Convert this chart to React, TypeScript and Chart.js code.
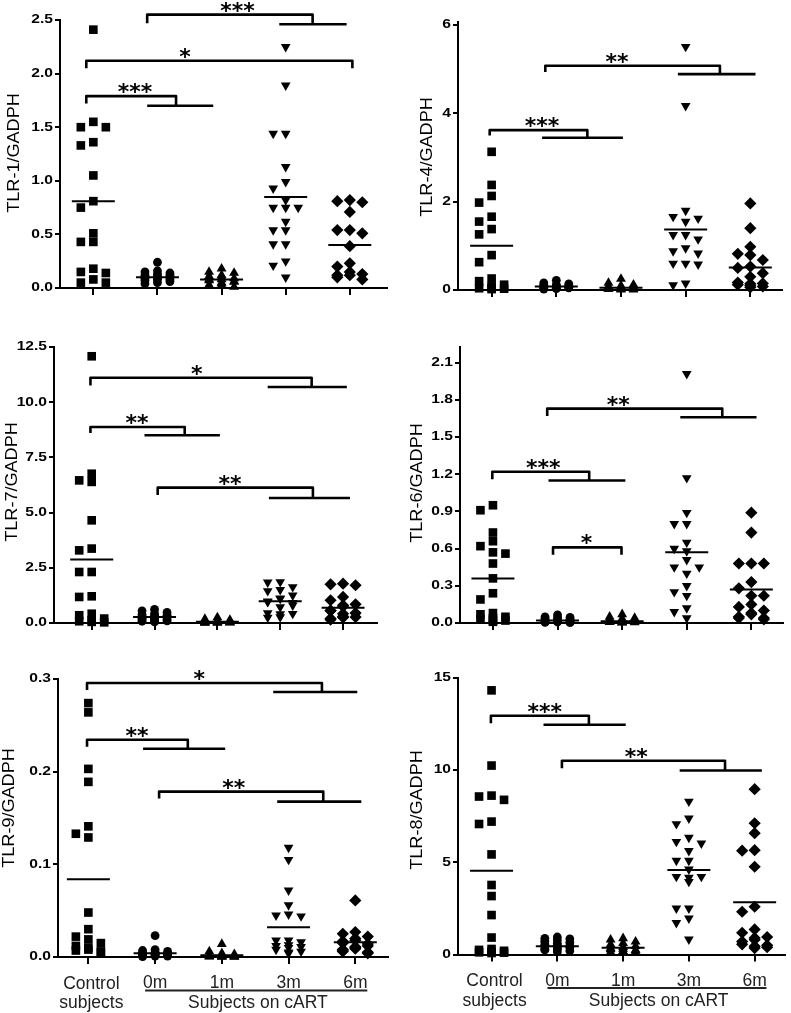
import React, { useEffect, useRef } from 'react';
import { Chart, registerables } from 'chart.js';
Chart.register(...registerables);

// ---------- categories / labels ----------
const categoryTicks = [0, 1, 2, 3, 4];
const controlLabel = ['Control', 'subjects'];
const monthLabels = ['0m', '1m', '3m', '6m'];
const cartLabel = 'Subjects on cART';

// ---------- TLR-1 ----------
const tlr1Control = [2.41, 1.55, 1.5, 1.5, 1.36, 1.33, 1.05, 0.81, 0.75, 0.51, 0.43, 0.43, 0.18, 0.15, 0.14, 0.08, 0.05, 0.05];
const tlr1M0 = [0.24, 0.16, 0.15, 0.14, 0.13, 0.12, 0.12, 0.11, 0.1, 0.1, 0.09, 0.09, 0.08, 0.08, 0.07, 0.06, 0.05, 0.04];
const tlr1M1 = [0.18, 0.15, 0.14, 0.12, 0.11, 0.1, 0.09, 0.08, 0.08, 0.07, 0.06, 0.06, 0.05, 0.04, 0.03, 0.02, 0.01];
const tlr1M3 = [2.25, 1.89, 1.44, 1.44, 1.13, 0.99, 0.93, 0.82, 0.75, 0.75, 0.75, 0.62, 0.54, 0.54, 0.41, 0.41, 0.25, 0.21, 0.1];
const tlr1M6 = [0.82, 0.81, 0.8, 0.71, 0.54, 0.54, 0.51, 0.39, 0.23, 0.2, 0.15, 0.13, 0.12, 0.12, 0.1, 0.08];
const tlr1Means = [0.81, 0.1, 0.08, 0.85, 0.4];
const tlr1Ticks = ['0.0', '0.5', '1.0', '1.5', '2.0', '2.5'];
const tlr1Brackets = [
  { stars: '***', starX: 2.25, top: 2.55, x1: 0.84, x2: 3.42, tick: 2.47, lowY: 2.46, lowX1: 2.9, lowX2: 3.95 },
  { stars: '*', starX: 1.43, top: 2.12, x1: -0.11, x2: 4.04, tick: 2.05, lowY: null, lowX1: 0, lowX2: 0 },
  { stars: '***', starX: 0.65, top: 1.79, x1: -0.11, x2: 1.29, tick: 1.72, lowY: 1.7, lowX1: 0.84, lowX2: 1.87 },
];

// ---------- TLR-4 ----------
const tlr4Control = [3.13, 2.38, 2.13, 1.98, 1.66, 1.55, 1.38, 1.26, 0.79, 0.63, 0.26, 0.2, 0.12, 0.08, 0.05, 0.04, 0.03, 0.02];
const tlr4M0 = [0.22, 0.16, 0.14, 0.12, 0.11, 0.1, 0.09, 0.09, 0.08, 0.07, 0.07, 0.06, 0.06, 0.05, 0.05, 0.04, 0.03, 0.02];
const tlr4M1 = [0.25, 0.16, 0.12, 0.1, 0.08, 0.07, 0.06, 0.05, 0.05, 0.04, 0.04, 0.03, 0.03, 0.02, 0.02, 0.01, 0.01];
const tlr4M3 = [5.51, 4.17, 1.8, 1.66, 1.62, 1.55, 1.25, 1.25, 1.15, 0.95, 0.88, 0.83, 0.6, 0.6, 0.58, 0.15, 0.11];
const tlr4M6 = [1.96, 1.4, 0.98, 0.82, 0.79, 0.68, 0.53, 0.5, 0.38, 0.3, 0.17, 0.15, 0.14, 0.12, 0.1, 0.08, 0.06];
const tlr4Means = [1.0, 0.08, 0.05, 1.37, 0.51];
const tlr4Ticks = ['0', '2', '4', '6'];
const tlr4Brackets = [
  { stars: '**', starX: 1.94, top: 5.08, x1: 0.83, x2: 3.53, tick: 4.94, lowY: 4.89, lowX1: 2.88, lowX2: 4.08 },
  { stars: '***', starX: 0.78, top: 3.62, x1: -0.03, x2: 1.48, tick: 3.5, lowY: 3.45, lowX1: 0.78, lowX2: 2.03 },
];

// ---------- TLR-7 ----------
const tlr7Control = [12.08, 6.76, 6.46, 6.39, 4.65, 3.37, 3.29, 2.31, 2.31, 1.21, 1.18, 0.42, 0.35, 0.2, 0.12, 0.08, 0.05, 0.03];
const tlr7M0 = [0.62, 0.55, 0.48, 0.42, 0.38, 0.35, 0.32, 0.3, 0.28, 0.25, 0.22, 0.2, 0.18, 0.15, 0.12, 0.1, 0.08, 0.05];
const tlr7M1 = [0.25, 0.18, 0.14, 0.12, 0.1, 0.08, 0.07, 0.06, 0.05, 0.04, 0.04, 0.03, 0.03, 0.02, 0.02, 0.01, 0.01];
const tlr7M3 = [1.86, 1.84, 1.63, 1.5, 1.45, 1.25, 1.12, 1.1, 0.98, 0.95, 0.92, 0.8, 0.72, 0.45, 0.42, 0.4, 0.27, 0.25];
const tlr7M6 = [1.78, 1.75, 1.71, 1.18, 1.03, 0.85, 0.8, 0.75, 0.57, 0.55, 0.45, 0.42, 0.3, 0.27, 0.25, 0.2, 0.15];
const tlr7Means = [2.88, 0.27, 0.06, 0.98, 0.69];
const tlr7Ticks = ['0.0', '2.5', '5.0', '7.5', '10.0', '12.5'];
const tlr7Brackets = [
  { stars: '*', starX: 1.67, top: 11.11, x1: -0.02, x2: 3.5, tick: 10.76, lowY: 10.69, lowX1: 2.8, lowX2: 4.06 },
  { stars: '**', starX: 0.72, top: 8.88, x1: -0.02, x2: 1.48, tick: 8.6, lowY: 8.5, lowX1: 0.84, lowX2: 2.04 },
  { stars: '**', starX: 2.2, top: 6.13, x1: 1.05, x2: 3.52, tick: 5.8, lowY: 5.66, lowX1: 2.82, lowX2: 4.11 },
];

// ---------- TLR-6 ----------
const tlr6Control = [0.95, 0.91, 0.73, 0.66, 0.62, 0.57, 0.56, 0.48, 0.36, 0.24, 0.19, 0.08, 0.07, 0.05, 0.04, 0.03, 0.02, 0.02, 0.01];
const tlr6M0 = [0.065, 0.05, 0.045, 0.04, 0.035, 0.03, 0.03, 0.025, 0.02, 0.02, 0.018, 0.015, 0.012, 0.01, 0.01, 0.008, 0.005, 0.003];
const tlr6M1 = [0.07, 0.05, 0.04, 0.035, 0.03, 0.025, 0.02, 0.018, 0.015, 0.012, 0.01, 0.01, 0.008, 0.006, 0.005, 0.004, 0.003];
const tlr6M3 = [2.01, 1.17, 0.89, 0.8, 0.8, 0.65, 0.6, 0.58, 0.51, 0.45, 0.45, 0.4, 0.3, 0.25, 0.22, 0.12, 0.09, 0.04];
const tlr6M6 = [0.89, 0.73, 0.48, 0.48, 0.48, 0.33, 0.28, 0.22, 0.22, 0.15, 0.13, 0.1, 0.08, 0.07, 0.05, 0.04, 0.04, 0.03];
const tlr6Means = [0.36, 0.02, 0.015, 0.57, 0.27];
const tlr6Ticks = ['0.0', '0.3', '0.6', '0.9', '1.2', '1.5', '1.8', '2.1'];
const tlr6Brackets = [
  { stars: '**', starX: 1.94, top: 1.73, x1: 0.84, x2: 3.55, tick: 1.67, lowY: 1.66, lowX1: 2.9, lowX2: 4.08 },
  { stars: '***', starX: 0.78, top: 1.22, x1: -0.01, x2: 1.49, tick: 1.16, lowY: 1.15, lowX1: 0.86, lowX2: 2.05 },
  { stars: '*', starX: 1.45, top: 0.61, x1: 0.93, x2: 1.99, tick: 0.55, lowY: null, lowX1: 0, lowX2: 0 },
];

// ---------- TLR-9 ----------
const tlr9Control = [0.274, 0.264, 0.203, 0.189, 0.141, 0.133, 0.129, 0.048, 0.03, 0.022, 0.019, 0.015, 0.012, 0.01, 0.008, 0.007, 0.006, 0.005];
const tlr9M0 = [0.023, 0.008, 0.007, 0.006, 0.005, 0.005, 0.004, 0.004, 0.003, 0.003, 0.003, 0.002, 0.002, 0.002, 0.001, 0.001, 0.001, 0.0005];
const tlr9M1 = [0.014, 0.006, 0.004, 0.003, 0.002, 0.002, 0.0015, 0.001, 0.001, 0.001, 0.0008, 0.0006, 0.0005, 0.0004, 0.0003, 0.0002, 0.0001];
const tlr9M3 = [0.118, 0.105, 0.072, 0.056, 0.046, 0.045, 0.044, 0.018, 0.018, 0.016, 0.013, 0.012, 0.011, 0.01, 0.008, 0.006, 0.005, 0.004];
const tlr9M6 = [0.061, 0.027, 0.025, 0.022, 0.02, 0.018, 0.017, 0.015, 0.014, 0.012, 0.011, 0.01, 0.009, 0.008, 0.007, 0.006, 0.005, 0.004];
const tlr9Means = [0.084, 0.004, 0.002, 0.032, 0.016];
const tlr9Ticks = ['0.0', '0.1', '0.2', '0.3'];
const tlr9Brackets = [
  { stars: '*', starX: 1.66, top: 0.2957, x1: -0.02, x2: 3.5, tick: 0.288, lowY: 0.286, lowX1: 2.77, lowX2: 4.03 },
  { stars: '**', starX: 0.73, top: 0.2344, x1: -0.02, x2: 1.49, tick: 0.227, lowY: 0.2247, lowX1: 0.82, lowX2: 2.05 },
  { stars: '**', starX: 2.18, top: 0.1785, x1: 1.06, x2: 3.52, tick: 0.171, lowY: 0.1677, lowX1: 2.83, lowX2: 4.09 },
];

// ---------- TLR-8 ----------
const tlr8Control = [14.33, 10.25, 8.62, 8.57, 8.39, 7.21, 7.08, 5.43, 3.77, 3.17, 2.14, 0.92, 0.3, 0.25, 0.2, 0.15, 0.12, 0.1, 0.08];
const tlr8M0 = [0.95, 0.88, 0.85, 0.8, 0.72, 0.65, 0.6, 0.55, 0.5, 0.45, 0.42, 0.4, 0.35, 0.3, 0.28, 0.25, 0.2, 0.15];
const tlr8M1 = [0.88, 0.8, 0.7, 0.62, 0.55, 0.45, 0.4, 0.35, 0.3, 0.28, 0.25, 0.2, 0.18, 0.15, 0.12, 0.1, 0.08];
const tlr8M3 = [8.3, 7.39, 7.08, 6.34, 6.12, 6.03, 5.62, 5.09, 5.09, 4.62, 4.22, 4.22, 4.17, 3.95, 2.5, 2.5, 1.96, 1.72, 0.82];
const tlr8M6 = [8.97, 7.12, 6.58, 5.66, 5.63, 4.76, 2.59, 2.32, 1.36, 1.18, 0.95, 0.9, 0.8, 0.7, 0.55, 0.5, 0.45, 0.4, 0.35];
const tlr8Means = [4.55, 0.45, 0.36, 4.58, 2.83];
const tlr8Ticks = ['0', '5', '10', '15'];
const tlr8Brackets = [
  { stars: '***', starX: 0.81, top: 12.95, x1: -0.01, x2: 1.48, tick: 12.55, lowY: 12.46, lowX1: 0.79, lowX2: 2.04 },
  { stars: '**', starX: 2.2, top: 10.51, x1: 1.07, x2: 3.55, tick: 10.1, lowY: 9.98, lowX1: 2.86, lowX2: 4.11 },
];

// ---------- marker styles per group ----------
const markerStyles = [
  { pointStyle: 'rect', radius: 6.1, rotation: 0 },
  { pointStyle: 'circle', radius: 4.4, rotation: 0 },
  { pointStyle: 'triangle', radius: 5.7, rotation: 0 },
  { pointStyle: 'triangle', radius: 5.6, rotation: 180 },
  { pointStyle: 'rectRot', radius: 6.1, rotation: 0 },
];

// ---------- panel layout (page px) ----------
const panels = [
  { title: 'TLR-1/GADPH', groups: [tlr1Control, tlr1M0, tlr1M1, tlr1M3, tlr1M6], means: tlr1Means, ticks: tlr1Ticks, brackets: tlr1Brackets,
    box: { left: 0, top: 0, w: 395, h: 320 }, area: { l: 60, r: 387, t: 20, b: 288 }, yMax: 2.5, xMin: -0.52, xMax: 4.58, titleX: 15, titleY: 153, cats: false },
  { title: 'TLR-4/GADPH', groups: [tlr4Control, tlr4M0, tlr4M1, tlr4M3, tlr4M6], means: tlr4Means, ticks: tlr4Ticks, brackets: tlr4Brackets,
    box: { left: 395, top: 0, w: 396, h: 320 }, area: { l: 458, r: 782, t: 22, b: 290 }, yMax: 6.07, xMin: -0.52, xMax: 4.49, titleX: 428, titleY: 157, cats: false },
  { title: 'TLR-7/GADPH', groups: [tlr7Control, tlr7M0, tlr7M1, tlr7M3, tlr7M6], means: tlr7Means, ticks: tlr7Ticks, brackets: tlr7Brackets,
    box: { left: 0, top: 320, w: 395, h: 330 }, area: { l: 54, r: 377, t: 347, b: 623 }, yMax: 12.5, xMin: -0.6, xMax: 4.54, titleX: 12.5, titleY: 482, cats: false },
  { title: 'TLR-6/GADPH', groups: [tlr6Control, tlr6M0, tlr6M1, tlr6M3, tlr6M6], means: tlr6Means, ticks: tlr6Ticks, brackets: tlr6Brackets,
    box: { left: 395, top: 320, w: 396, h: 330 }, area: { l: 460, r: 783, t: 347, b: 623 }, yMax: 2.227, xMin: -0.51, xMax: 4.49, titleX: 418, titleY: 483, cats: false },
  { title: 'TLR-9/GADPH', groups: [tlr9Control, tlr9M0, tlr9M1, tlr9M3, tlr9M6], means: tlr9Means, ticks: tlr9Ticks, brackets: tlr9Brackets,
    box: { left: 0, top: 650, w: 395, h: 363 }, area: { l: 58, r: 388, t: 679, b: 957 }, yMax: 0.3, xMin: -0.455, xMax: 4.49, titleX: 10, titleY: 808, cats: true },
  { title: 'TLR-8/GADPH', groups: [tlr8Control, tlr8M0, tlr8M1, tlr8M3, tlr8M6], means: tlr8Means, ticks: tlr8Ticks, brackets: tlr8Brackets,
    box: { left: 395, top: 650, w: 396, h: 363 }, area: { l: 458, r: 785, t: 678, b: 954.5 }, yMax: 15, xMin: -0.51, xMax: 4.46, titleX: 417.5, titleY: 810, cats: true },
];

const X_AXIS_H = 8;
const SANS = '"Liberation Sans", Arial, sans-serif';

// simple beeswarm: offsets (in px) chosen to avoid marker overlap
function swarm(values: number[], pxY: number, pxX: number): number[] {
  const cands = [0, -12.5, 12.5, -6.5, 6.5, -18, 18];
  const placed: { x: number; y: number }[] = [];
  return values.map((v) => {
    const y = v * pxY;
    let best = 0;
    let bestN = Infinity;
    for (const c of cands) {
      let n = 0;
      for (const p of placed) if (Math.abs(p.x - c) < 9 && Math.abs(p.y - y) < 8) n++;
      if (n < bestN) { bestN = n; best = c; if (n === 0) break; }
    }
    placed.push({ x: best, y });
    return best / pxX;
  });
}

function makeOverlay(p: any) {
  return {
    id: 'overlay',
    afterDatasetsDraw(chart: any) {
      const ctx = chart.ctx;
      const xs = chart.scales.x;
      const ys = chart.scales.y;
      const X = (v: number) => xs.getPixelForValue(v);
      const Y = (v: number) => ys.getPixelForValue(v);
      ctx.save();
      ctx.strokeStyle = '#000';
      ctx.fillStyle = '#000';
      // mean lines
      ctx.lineWidth = 2;
      p.means.forEach((m: number, i: number) => {
        const y = Y(m);
        ctx.beginPath();
        ctx.moveTo(X(i) - 21.5, y);
        ctx.lineTo(X(i) + 21.5, y);
        ctx.stroke();
      });
      // significance brackets
      ctx.lineWidth = 2.6;
      ctx.lineJoin = 'round';
      p.brackets.forEach((b: any) => {
        ctx.beginPath();
        ctx.moveTo(X(b.x1), Y(b.tick));
        ctx.lineTo(X(b.x1), Y(b.top));
        ctx.lineTo(X(b.x2), Y(b.top));
        if (b.lowY !== null) {
          ctx.lineTo(X(b.x2), Y(b.lowY));
          ctx.stroke();
          ctx.beginPath();
          ctx.moveTo(X(b.lowX1), Y(b.lowY));
          ctx.lineTo(X(b.lowX2), Y(b.lowY));
        } else {
          ctx.lineTo(X(b.x2), Y(b.tick));
        }
        ctx.stroke();
        ctx.font = 'bold 22px "DejaVu Sans", sans-serif';
        ctx.textAlign = 'center';
        ctx.textBaseline = 'alphabetic';
        ctx.fillText(b.stars, X(b.starX), Y(b.top) + 3);
      });
      // y tick labels
      ctx.font = `bold 12px ${SANS}`;
      ctx.textAlign = 'right';
      ctx.textBaseline = 'middle';
      p.ticks.forEach((lab: string) => {
        ctx.save();
        ctx.translate(chart.chartArea.left - 7, Y(Number(lab)));
        ctx.scale(1.3, 1);
        ctx.fillText(lab, 0, 0);
        ctx.restore();
      });
      // y title
      ctx.save();
      ctx.translate(p.titleX - p.box.left, p.titleY - p.box.top);
      ctx.rotate(-Math.PI / 2);
      ctx.scale(1.13, 1);
      ctx.font = `16px ${SANS}`;
      ctx.textAlign = 'center';
      ctx.textBaseline = 'middle';
      ctx.fillText(p.title, 0, 0);
      ctx.restore();
      // category labels
      if (p.cats) {
        const b0 = chart.chartArea.bottom;
        ctx.fillStyle = '#222';
        ctx.strokeStyle = '#222';
        ctx.font = `17.5px ${SANS}`;
        ctx.textAlign = 'center';
        ctx.textBaseline = 'alphabetic';
        ctx.fillText(controlLabel[0], X(0) + 3, b0 + 31.5);
        ctx.fillText(controlLabel[1], X(0) + 3, b0 + 51);
        monthLabels.forEach((lab, i) => ctx.fillText(lab, X(i + 1), b0 + 31));
        ctx.lineWidth = 2;
        ctx.beginPath();
        ctx.moveTo(X(0.85), b0 + 33.5);
        ctx.lineTo(X(4.18), b0 + 33.5);
        ctx.stroke();
        ctx.fillText(cartLabel, X(2.54), b0 + 51);
      }
      ctx.restore();
    },
  };
}

function Panel({ p }: { p: any }) {
  const ref = useRef<HTMLCanvasElement>(null);
  useEffect(() => {
    const canvas = ref.current!;
    const { box, area } = p;
    const pxY = (area.b - area.t) / p.yMax;
    const pxX = (area.r - area.l) / (p.xMax - p.xMin);
    const tickValues = p.ticks.map((t: string) => Number(t));
    const datasets = p.groups.map((vals: number[], gi: number) => {
      const offs = swarm(vals, pxY, pxX);
      const st = markerStyles[gi];
      return {
        data: vals.map((v, i) => ({ x: gi + offs[i], y: v })),
        pointStyle: st.pointStyle,
        pointRadius: st.radius,
        pointHoverRadius: st.radius,
        pointRotation: st.rotation,
        pointBackgroundColor: '#000',
        pointBorderColor: '#000',
        pointBorderWidth: 0,
        showLine: false,
        clip: false,
      };
    });
    const gridOpts = (len: number) => ({ display: true, drawOnChartArea: false, drawTicks: true, tickLength: len, color: '#000', lineWidth: 2 });
    const chart = new Chart(canvas, {
      type: 'scatter',
      data: { datasets },
      options: {
        responsive: false,
        animation: false,
        devicePixelRatio: 1,
        events: [],
        layout: {
          padding: {
            left: 0,
            top: area.t - box.top,
            right: box.left + box.w - area.r,
            bottom: box.top + box.h - area.b - X_AXIS_H,
          },
        },
        plugins: { legend: { display: false }, tooltip: { enabled: false } },
        scales: {
          x: {
            type: 'linear',
            min: p.xMin,
            max: p.xMax,
            afterBuildTicks: (s: any) => { s.ticks = categoryTicks.map((v) => ({ value: v })); },
            afterFit: (s: any) => { s.height = X_AXIS_H; },
            ticks: { display: false },
            grid: gridOpts(7),
            border: { display: true, color: '#000', width: 2 },
          },
          y: {
            type: 'linear',
            min: 0,
            max: p.yMax,
            afterBuildTicks: (s: any) => { s.ticks = tickValues.map((v: number) => ({ value: v })); },
            afterFit: (s: any) => { s.width = area.l - box.left; },
            ticks: { display: false },
            grid: gridOpts(5),
            border: { display: true, color: '#000', width: 2 },
          },
        },
      } as any,
      plugins: [makeOverlay(p)],
    });
    return () => chart.destroy();
  }, [p]);
  return (
    <canvas
      ref={ref}
      width={p.box.w}
      height={p.box.h}
      style={{ position: 'absolute', left: p.box.left, top: p.box.top, width: p.box.w, height: p.box.h }}
    />
  );
}

export default function App() {
  return (
    <div style={{ position: 'absolute', left: 0, top: 0, width: 791, height: 1013, background: '#fff', overflow: 'hidden' }}>
      {panels.map((p, i) => (
        <Panel key={i} p={p} />
      ))}
    </div>
  );
}
